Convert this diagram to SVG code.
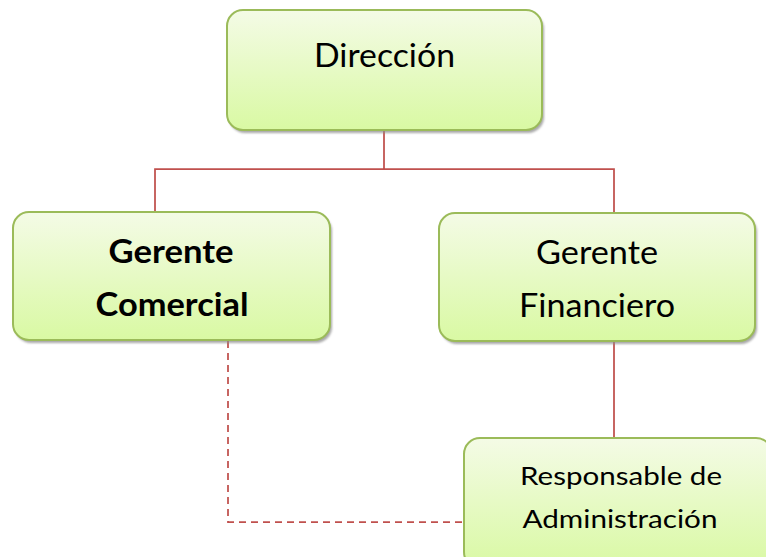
<svg xmlns="http://www.w3.org/2000/svg" width="766" height="557" viewBox="0 0 766 557">
<defs>
<linearGradient id="g" x1="0" y1="0" x2="0" y2="1">
<stop offset="0" stop-color="#F4FBE6"/>
<stop offset="1" stop-color="#D9F9A3"/>
</linearGradient>
<filter id="sh" x="-5%" y="-5%" width="115%" height="120%">
<feGaussianBlur stdDeviation="1"/>
</filter>
</defs>
<style>
.box{fill:url(#g);stroke:#9BBB59;stroke-width:2}
.shadow{fill:#8c8c8c;opacity:.75;filter:url(#sh)}
.t{font-family:Lato,"Open Sans","Liberation Sans",sans-serif;fill:#000;text-anchor:middle}
.c{fill:none;stroke:#C0504D;stroke-width:1.75}
.d{fill:none;stroke:#C0504D;stroke-width:1.75;stroke-dasharray:7 5}
</style>
<g id="connectors">
<path class="c" d="M384 130 V169 M155 212 V169 H614 V213 M614 341 V438"/>
<path class="d" d="M228 341 V522 H462"/>
</g>
<g id="direccion">
<rect class="shadow" x="229" y="13" width="315" height="120" rx="16"/>
<rect class="box" x="227" y="10" width="315" height="120" rx="16"/>
<text class="t" x="384.5" y="67" font-size="32" textLength="141" lengthAdjust="spacingAndGlyphs">Dirección</text>
</g>
<g id="gerente-comercial">
<rect class="shadow" x="15" y="215" width="317" height="128" rx="16"/>
<rect class="box" x="13" y="212" width="317" height="128" rx="16"/>
<text class="t" x="171" y="263" font-size="32" font-weight="bold" textLength="125" lengthAdjust="spacingAndGlyphs">Gerente</text>
<text class="t" x="172" y="316" font-size="32" font-weight="bold" textLength="153" lengthAdjust="spacingAndGlyphs">Comercial</text>
</g>
<g id="gerente-financiero">
<rect class="shadow" x="441" y="216" width="316" height="128" rx="16"/>
<rect class="box" x="439" y="213" width="316" height="128" rx="16"/>
<text class="t" x="597" y="264" font-size="32" textLength="122" lengthAdjust="spacingAndGlyphs">Gerente</text>
<text class="t" x="597" y="317" font-size="32" textLength="156" lengthAdjust="spacingAndGlyphs">Financiero</text>
</g>
<g id="responsable-administracion">
<rect class="shadow" x="466" y="441" width="308" height="130" rx="16"/>
<rect class="box" x="464" y="438" width="308" height="130" rx="16"/>
<text class="t" x="621" y="485" font-size="25" textLength="202" lengthAdjust="spacingAndGlyphs">Responsable de</text>
<text class="t" x="620" y="528" font-size="25" textLength="195" lengthAdjust="spacingAndGlyphs">Administración</text>
</g>
</svg>
